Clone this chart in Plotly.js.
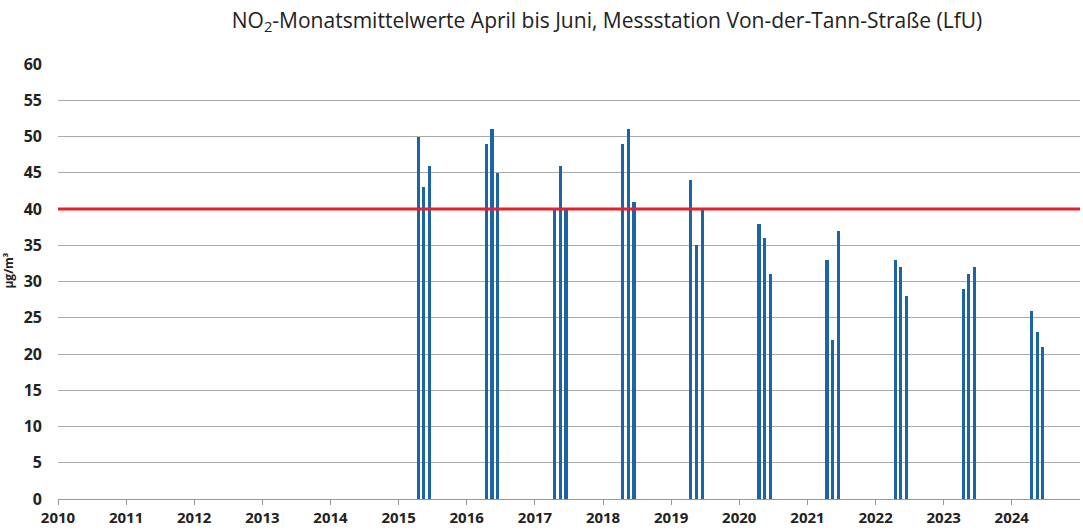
<!DOCTYPE html>
<html><head><meta charset="utf-8">
<script src="https://cdn.plot.ly/plotly-3.0.1.min.js"></script>
<style>html,body{margin:0;padding:0;background:#fff}#c{width:1083px;height:532px}</style>
</head><body><div id="c"></div>
<script>
const years = [2015, 2016, 2017, 2018, 2019, 2020, 2021, 2022, 2023, 2024];
const months = ['04', '05', '06'];
const values = [
  [50, 43, 46],
  [49, 51, 45],
  [40, 46, 40],
  [49, 51, 41],
  [44, 35, 40],
  [38, 36, 31],
  [33, 22, 37],
  [33, 32, 28],
  [29, 31, 32],
  [26, 23, 21]
];
const tickYears = [2010,2011,2012,2013,2014,2015,2016,2017,2018,2019,2020,2021,2022,2023,2024];
const limitValue = 40;

const x = [], y = [];
years.forEach((yr, i) => {
  months.forEach((m, j) => {
    x.push(yr + '-' + m + '-16');
    y.push(values[i][j]);
  });
});

const trace = {
  type: 'bar', x: x, y: y,
  width: 17 * 86400000,
  marker: {color: '#1b64a7'},
  hoverinfo: 'x+y'
};

const layout = {
  width: 1083, height: 532,
  margin: {l: 58, r: 3, t: 64, b: 33},
  paper_bgcolor: '#fff', plot_bgcolor: '#fff',
  showlegend: false,
  title: {
    text: 'NO<sub>2</sub>-Monatsmittelwerte April bis Juni, Messstation Von-der-Tann-Straße (LfU)',
    font: {family: 'Open Sans, Noto Sans, sans-serif', size: 21, color: '#222'},
    x: 0.5605, xref: 'container', xanchor: 'center',
    y: 0.962, yref: 'container', yanchor: 'middle'
  },
  xaxis: {
    type: 'date',
    range: ['2010-01-01', '2025-01-01'],
    tickvals: tickYears.map(t => t + '-01-01'),
    ticktext: tickYears.map(String),
    ticks: 'outside', ticklen: 5, tickcolor: '#999', tickwidth: 1,
    showline: true, linecolor: '#999', linewidth: 1,
    showgrid: false, zeroline: false,
    tickfont: {family: 'Open Sans, Noto Sans, sans-serif', size: 15, color: '#222', weight: 'bold'}
  },
  yaxis: {
    range: [0, 60],
    dtick: 5, tick0: 0,
    showgrid: true, gridcolor: '#ababab', gridwidth: 1,
    zeroline: false, showline: false,
    ticks: '', ticklabelstandoff: 15,
    tickfont: {family: 'Open Sans, Noto Sans, sans-serif', size: 16, color: '#222', weight: 'bold'}
  },
  shapes: [{
    type: 'line', xref: 'paper', x0: 0, x1: 1, yref: 'y', y0: limitValue, y1: limitValue,
    line: {color: '#e8202a', width: 3}
  }],
  annotations: [{
    text: 'µg/m³', textangle: -90, showarrow: false,
    xref: 'paper', yref: 'paper', x: -0.048, y: 0.525,
    xanchor: 'center', yanchor: 'middle',
    font: {family: 'Open Sans, Noto Sans, sans-serif', size: 12, color: '#222', weight: 'bold'}
  }],
  bargap: 0
};

Plotly.newPlot('c', [trace], layout, {displayModeBar: false, staticPlot: true});
</script>
</body></html>
